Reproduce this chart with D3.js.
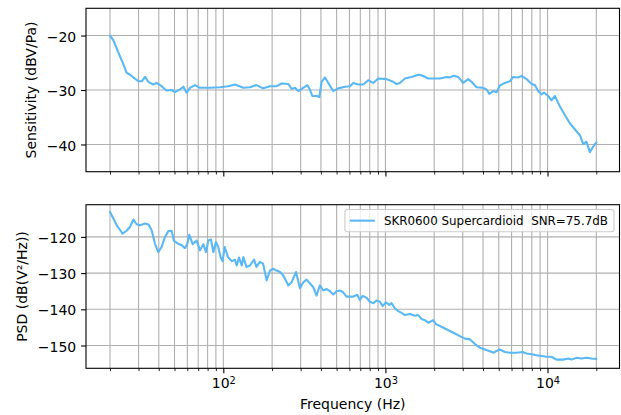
<!DOCTYPE html>
<html>
<head>
	<meta charset="UTF-8" />
	<title>sensitivity / psd</title>
	<script src="https://d3js.org/d3.v7.min.js"></script>
	<style type="text/css">
		body{margin:0; background:#fff;}
		text{font-family:"DejaVu Sans", sans-serif; fill:#000;}
		.grid line{stroke:#b0b0b0; stroke-width:1.1;}
		.curve{fill:none; stroke:#5ab8f5; stroke-width:2.1; stroke-linejoin:round; stroke-linecap:round;}
		.frame{fill:none; stroke:#000; stroke-width:1.1;}
	</style>
</head>
<body>
	<svg id="chart" width="621" height="415"></svg>

	<script type="text/javascript">
	// sensitivity curve (Hz, dBV/Pa)
	var sensFreq = [20, 21, 22.5, 24.2, 25.3, 26.6, 27.9, 29.9, 31.4, 32.9, 34.5, 37, 38.8, 41.6, 44.7, 48, 50.3, 54, 56.7, 59.4,
		62.3, 66.9, 71.8, 82.7, 95.4, 107, 118, 133, 146, 160, 176, 194, 213, 229, 252, 264, 277, 290, 311, 330,
		342, 354, 376, 391, 404, 424, 450, 477, 512, 563, 604, 633, 680, 730, 783, 841, 903, 1017, 1117, 1172,
		1228, 1319, 1450, 1594, 1671, 1837, 1972, 2168, 2383, 2498, 2619, 2812, 3019, 3242, 3398, 3648, 4010, 4204, 4368, 4624,
		4847, 5082, 5456, 5858, 6138, 6592, 6912, 7422, 7968, 8356, 8758, 9184, 9538, 10094, 10582, 11096, 11912, 12790, 13732, 14742,
		15828, 16596, 17398, 18238, 19122, 20000]
	var sensDb = [-20.0, -20.9, -23.1, -25.3, -26.8, -27.2, -27.7, -28.4, -28.4, -27.6, -28.5, -29.0, -28.7, -29.3, -30.1, -30.0, -30.4, -29.9, -29.4, -30.5,
		-29.6, -29.1, -29.6, -29.6, -29.5, -29.3, -29.0, -29.6, -29.5, -29.1, -29.7, -29.3, -29.3, -28.8, -28.9, -29.8, -29.6, -30.2, -29.6, -29.1,
		-29.9, -31.1, -31.1, -31.3, -28.5, -27.7, -29.0, -30.2, -29.7, -29.4, -29.3, -28.7, -29.0, -29.0, -28.2, -28.7, -27.9, -28.0, -28.5, -28.9,
		-28.7, -27.9, -27.6, -27.2, -27.3, -27.9, -27.9, -27.9, -27.6, -27.7, -27.4, -27.6, -28.7, -28.0, -28.5, -29.5, -29.6, -29.9, -30.7, -30.2,
		-30.4, -29.2, -28.7, -28.4, -27.6, -27.7, -27.4, -28.0, -28.9, -29.1, -30.2, -30.8, -30.5, -31.1, -31.9, -31.1, -33.0, -34.6, -36.1, -37.2,
		-38.3, -39.9, -39.5, -41.4, -40.4, -39.6]

	// noise psd curve (Hz, dB(V^2/Hz))
	var psdFreq = [20, 21, 22, 23.1, 23.9, 25.3, 26.6, 27.9, 29.2, 30.6, 32.9, 34.5, 36.1, 37.9, 39.7, 41.6, 43.7, 45.8, 48, 49.6,
		52.8, 55.3, 58, 60, 61.7, 64.7, 68.5, 71.8, 75.3, 78.2, 80.8, 83.9, 86.8, 90.1, 93.1, 96.3, 99, 102, 107, 113,
		118, 121, 125, 130, 133, 139, 146, 155, 160, 168, 176, 185, 194, 203, 213, 224, 234, 252, 264, 281,
		297, 311, 326, 342, 359, 376, 394, 414, 434, 455, 477, 500, 524, 549, 576,
		604, 633, 670, 696, 723, 765, 802, 841, 882, 925, 960, 1007, 1056, 1091, 1144, 1200, 1258, 1319, 1416, 1520,
		1594, 1671, 1752, 1837, 1972, 2048, 2168, 2328, 2498, 2682, 2880, 3092, 3318, 3564, 3826, 4108, 4408, 4666, 4847, 5082,
		5456, 5858, 6438, 7010, 7422, 7968, 8552, 9184, 9858, 10582, 11358, 12490, 13412, 14062, 15096, 16204, 17398, 18676, 20000]
	var psdDb = [-113.1, -114.9, -116.8, -118.1, -119.1, -118.3, -117.2, -115.2, -116.5, -116.8, -116.3, -116.6, -118.1, -121.9, -124.2, -122.8, -120.0, -118.4, -118.3, -121.1,
		-121.9, -122.3, -123.1, -121.9, -119.4, -122.0, -121.0, -123.7, -122.0, -124.2, -121.0, -120.7, -124.2, -121.4, -122.8, -125.6, -126.7, -122.8, -125.6, -126.7,
		-126.3, -127.9, -125.7, -127.9, -125.6, -128.3, -127.9, -126.3, -128.3, -126.9, -127.4, -132.0, -129.3, -128.8, -129.3, -129.7, -130.6, -133.4, -132.5, -129.7,
		-134.2, -132.6, -131.8, -132.8, -133.9, -136.2, -133.4, -134.8, -134.4, -135.0, -135.9, -135.0, -134.8, -135.3, -136.5,
		-136.5, -136.5, -136.0, -137.4, -136.3, -136.8, -137.9, -138.3, -137.6, -137.9, -139.1, -138.1, -138.8, -138.3, -139.7, -140.5, -141.0, -141.6, -141.3, -141.8,
		-141.6, -142.7, -143.0, -143.7, -143.0, -144.1, -144.6, -145.3, -146.0, -146.7, -147.4, -148.1, -148.3, -149.6, -150.6, -151.1, -151.6, -152.0, -151.5, -151.1,
		-151.8, -152.0, -152.0, -151.8, -152.2, -152.4, -152.7, -152.9, -153.1, -153.1, -153.9, -153.9, -153.6, -153.9, -153.4, -153.6, -153.4, -153.6, -153.7]

	// ticks
	var majorFreq = [100, 1000, 10000]
	var minorFreq = [20, 30, 40, 50, 60, 70, 80, 90, 200, 300, 400, 500, 600, 700, 800, 900,
		2000, 3000, 4000, 5000, 6000, 7000, 8000, 9000, 20000]
	var sensTicks = [-40, -30, -20]
	var psdTicks = [-150, -140, -130, -120]

	var legendLabel = "SKR0600 Supercardioid  SNR=75.7dB"
	var lineColor = "#5ab8f5"

	// layout
	var left = 86, right = 619.5
	var top1 = 8.3, bottom1 = 171.7
	var top2 = 204.7, bottom2 = 368.3

	var svg = d3.select("#chart")
	svg.append("rect").attr("width", 621).attr("height", 415).attr("fill", "#fff")

	var xScale = d3.scaleLog().domain([Math.pow(10, 1.153), Math.pow(10, 4.444)]).range([left, right])
	var y1 = d3.scaleLinear().domain([-45, -15]).range([bottom1, top1])
	var y2 = d3.scaleLinear().domain([-156.3, -111.1]).range([bottom2, top2])

	function panel(yScale, yTicks, yTop, yBottom, freqs, vals, labelX, labelText, showX){
		var g = svg.append("g")

		// grid, x both major and minor
		var grid = g.append("g").attr("class", "grid")
		grid.selectAll(".vx")
			.data(majorFreq.concat(minorFreq))
			.enter()
			.append("line")
			.attr("x1", d=>xScale(d)).attr("x2", d=>xScale(d))
			.attr("y1", yTop).attr("y2", yBottom)
		grid.selectAll(".hy")
			.data(yTicks)
			.enter()
			.append("line")
			.attr("x1", left).attr("x2", right)
			.attr("y1", d=>yScale(d)).attr("y2", d=>yScale(d))

		// curve
		var line = d3.line().x((d, i)=>xScale(freqs[i])).y(d=>yScale(d))
		g.append("path")
			.datum(vals)
			.attr("class", "curve")
			.attr("d", line)

		// y axis
		var ya = g.append("g")
			.attr("transform", "translate(" + left + ",0)")
			.call(d3.axisLeft(yScale).tickValues(yTicks).tickSize(4.9).tickPadding(4.9).tickSizeOuter(0)
				.tickFormat(d=>d3.format("d")(d).replace("-", "\u2212")))
		ya.select(".domain").remove()
		ya.selectAll(".tick line").attr("stroke", "#000").attr("stroke-width", 1.1)
		ya.selectAll("text").attr("font-size", "14px").attr("font-family", "DejaVu Sans").attr("dy", "0.4em")

		// x axis, major + minor ticks
		var xa = g.append("g")
			.attr("transform", "translate(0," + yBottom + ")")
			.call(d3.axisBottom(xScale).tickValues(majorFreq).tickSize(4.9).tickPadding(4.9).tickSizeOuter(0))
		xa.select(".domain").remove()
		xa.selectAll(".tick line").attr("stroke", "#000").attr("stroke-width", 1.1)
		var xm = g.append("g")
			.attr("transform", "translate(0," + yBottom + ")")
			.call(d3.axisBottom(xScale).tickValues(minorFreq).tickSize(2.8).tickSizeOuter(0).tickFormat(""))
		xm.select(".domain").remove()
		xm.selectAll(".tick line").attr("stroke", "#000").attr("stroke-width", 0.85)

		if(showX){
			xa.selectAll("text")
				.attr("font-size", "14px").attr("font-family", "DejaVu Sans")
				.text(null)
				.each(function(d){
					var t = d3.select(this)
					t.append("tspan").text("10")
					t.append("tspan").attr("font-size", "9.8px").attr("dy", "-4").text(Math.round(Math.log10(d)))
				})
		} else {
			xa.selectAll("text").remove()
		}

		// frame
		g.append("rect")
			.attr("class", "frame")
			.attr("x", left).attr("y", yTop)
			.attr("width", right - left).attr("height", yBottom - yTop)

		// y label
		g.append("text")
			.attr("transform", "translate(" + labelX + "," + (yTop + yBottom) / 2 + ") rotate(-90)")
			.attr("text-anchor", "middle")
			.attr("font-size", "14px")
			.text(labelText)
		return g
	}

	panel(y1, sensTicks, top1, bottom1, sensFreq, sensDb, 36.3, "Sensitivity (dBV/Pa)", false)
	panel(y2, psdTicks, top2, bottom2, psdFreq, psdDb, 26.5, "PSD (dB(V\u00b2/Hz))", true)

	// x label
	svg.append("text")
		.attr("x", (left + right) / 2).attr("y", 409)
		.attr("text-anchor", "middle")
		.attr("font-size", "14px")
		.text("Frequency (Hz)")

	// legend, upper right of the psd panel (keep the double space)
	var lg = svg.append("g")
	var lgText = lg.append("text")
		.attr("y", 225.3)
		.attr("font-size", "11.9px")
		.attr("xml:space", "preserve")
		.style("white-space", "pre")
		.text(legendLabel)
	var tw = lgText.node().getComputedTextLength()
	var boxRight = 614, boxTop = 209.5, boxH = 22.3
	var boxLeft = boxRight - (39 + tw + 6)
	lg.insert("rect", "text")
		.attr("x", boxLeft).attr("y", boxTop)
		.attr("width", boxRight - boxLeft).attr("height", boxH)
		.attr("rx", 2.5)
		.attr("fill", "#fff").attr("fill-opacity", 0.8)
		.attr("stroke", "#cccccc").attr("stroke-width", 1.1)
	lg.insert("line", "text")
		.attr("x1", boxLeft + 5).attr("x2", boxLeft + 30)
		.attr("y1", boxTop + boxH / 2).attr("y2", boxTop + boxH / 2)
		.attr("stroke", lineColor).attr("stroke-width", 2.1)
	lgText.attr("x", boxLeft + 39)
	</script>
</body>
</html>
